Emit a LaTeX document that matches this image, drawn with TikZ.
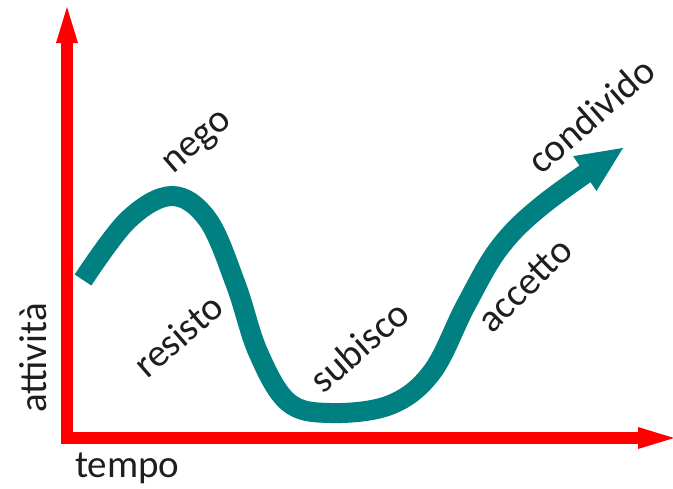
\documentclass[tikz,border=0pt]{standalone}
\usepackage{fontspec}
\setmainfont{Carlito}
\usetikzlibrary{arrows.meta}
\definecolor{curveteal}{RGB}{0,128,128}
\definecolor{axisred}{RGB}{255,0,0}
\definecolor{labelgrey}{RGB}{30,30,30}
\begin{document}
\begin{tikzpicture}[x=1pt,y=-1pt,
  axisline/.style={draw=axisred,line width=12pt,line join=miter,
    {Triangle[length=36pt,width=22pt,line width=0pt]}-{Triangle[length=36pt,width=22pt,line width=0pt]}},
  phase/.style={line width=20pt,draw=curveteal,line cap=butt,
    -{Triangle[length=46pt,width=42pt,line width=0pt]}},
  lbl/.style={text=labelgrey,font=\fontsize{39}{44}\selectfont,inner sep=0pt},
  stage/.style={lbl,rotate=41}]
\useasboundingbox (0,0) rectangle (673,488);

% axes
\coordinate (ytop) at (67,7);
\coordinate (origin) at (67,438);
\coordinate (xend) at (674,438);
\draw[axisline] (ytop) |- (xend);

% axis labels
\node[lbl,rotate=90] (yl) at (33,358) {attività};
\node[lbl,anchor=base west] (xl) at (75,477) {tempo};

% change curve
\coordinate (cstart) at (83,280);
\coordinate (ctip) at (623,148);
\draw[phase] plot[smooth,tension=0.6] coordinates {
  (cstart) (128,220) (172,196) (208,220) (236,285) (258,352)
  (288,402) (330,413) (390,405) (432,372) (466,305) (500,247)
  (545,203) (ctip)};

% stage labels
\node[stage] (s1) at (199,144) {nego};
\node[stage] (s2) at (178,335) {resisto};
\node[stage] (s3) at (359,346) {subisco};
\node[stage,rotate=4] (s4) at (525,285) {accetto};
\node[stage] (s5) at (591,115) {condivido};
\end{tikzpicture}
\end{document}
